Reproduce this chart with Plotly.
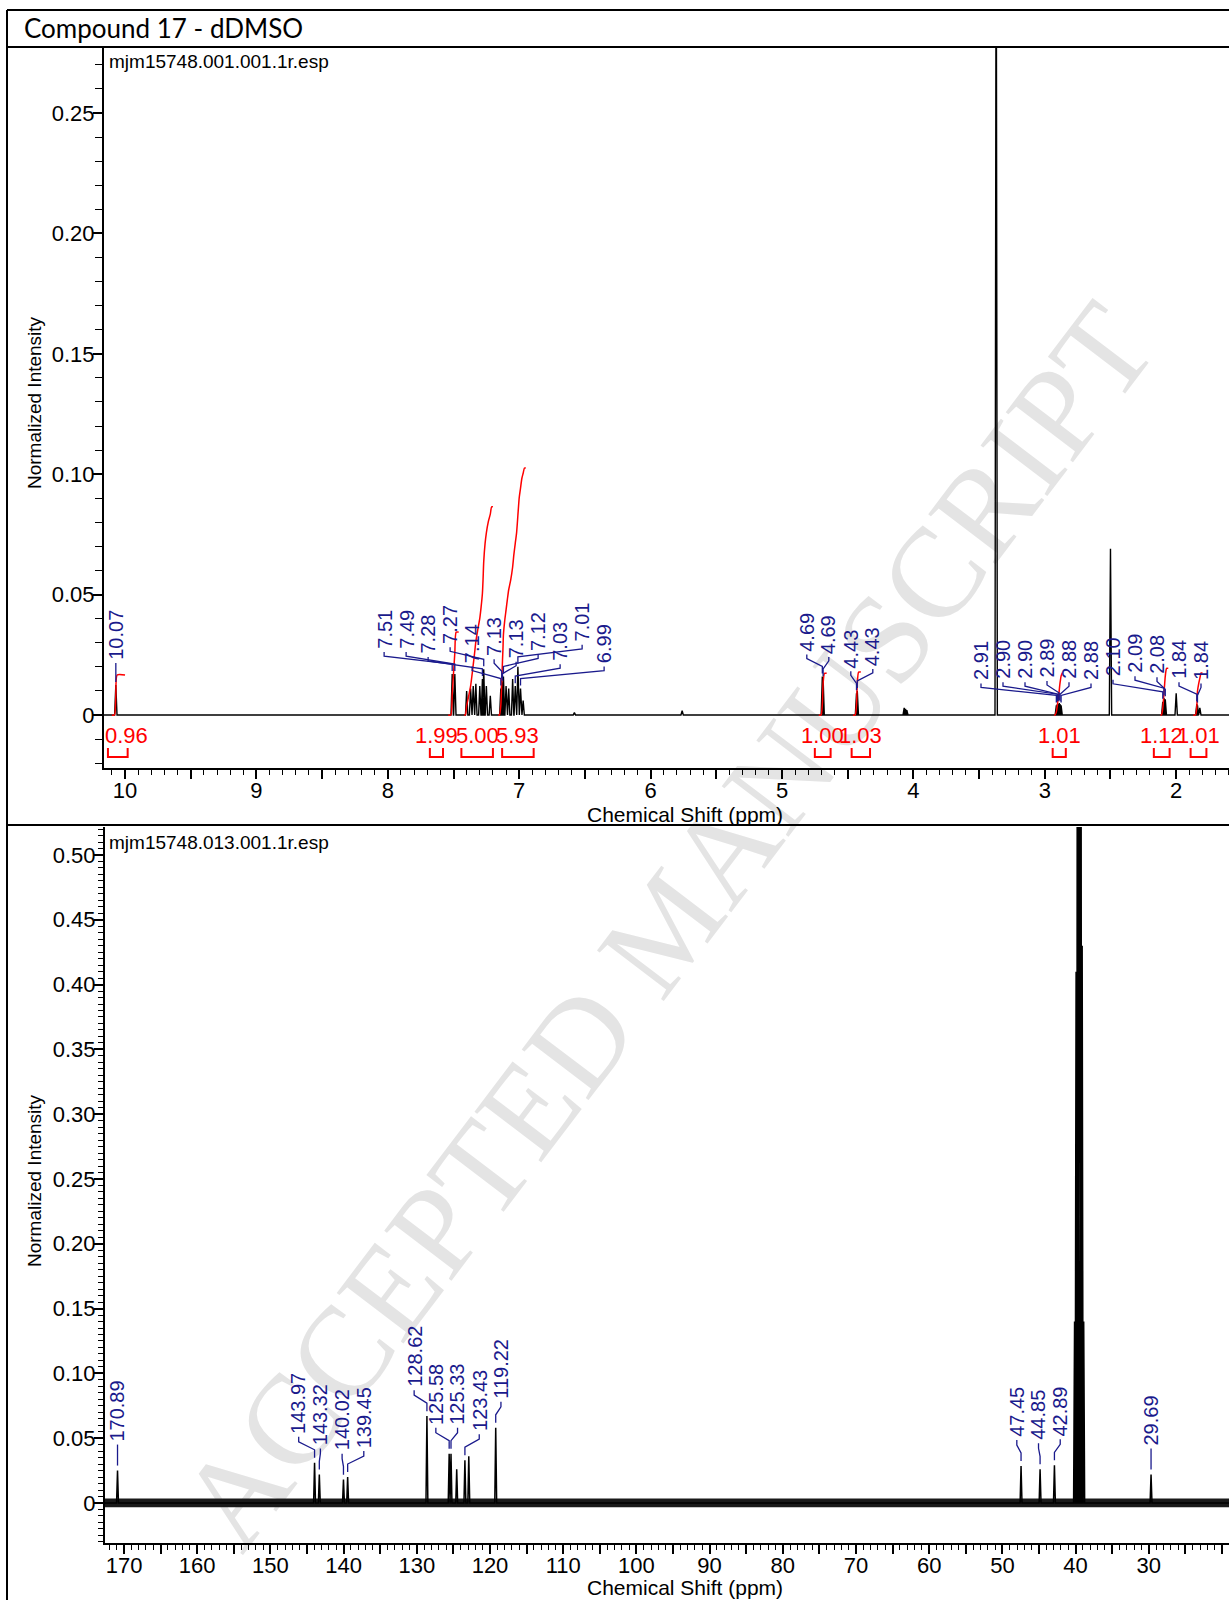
import plotly.graph_objects as go

W, H = 1229, 1600

# ---------------- data ----------------
TITLE = "Compound 17 - dDMSO"
H1_FILE = "mjm15748.001.001.1r.esp"
C13_FILE = "mjm15748.013.001.1r.esp"
X_TITLE = "Chemical Shift (ppm)"
Y_TITLE = "Normalized Intensity"
WATERMARK = "ACCEPTED MANUSCRIPT"

# 1H spectrum: peak positions (ppm) and normalized intensities
H1_PPM = [10.07, 7.51, 7.49, 7.40, 7.37, 7.35, 7.33, 7.30, 7.28, 7.27, 7.25, 7.22,
          7.14, 7.133, 7.127, 7.12, 7.10, 7.08, 7.05, 7.03, 7.01, 6.99, 6.97,
          6.58, 5.76, 4.693, 4.687, 4.433, 4.427, 4.07, 4.06, 4.05, 3.37,
          2.912, 2.904, 2.898, 2.890, 2.884, 2.876, 2.50, 2.102, 2.093, 2.083,
          2.00, 1.843, 1.838, 1.82]
H1_INTENSITY = [0.0125, 0.017, 0.017, 0.010, 0.011, 0.012, 0.013, 0.012, 0.015, 0.019, 0.012, 0.008,
                0.011, 0.014, 0.013, 0.016, 0.012, 0.011, 0.015, 0.012, 0.020, 0.011, 0.006,
                0.001, 0.0018, 0.016, 0.015, 0.009, 0.010, 0.003, 0.0025, 0.002, 0.36,
                0.004, 0.0045, 0.0045, 0.005, 0.0045, 0.004, 0.069, 0.0055, 0.007, 0.0065,
                0.009, 0.0045, 0.004, 0.003]
H1_LABELED = [10.07, 7.51, 7.49, 7.28, 7.27, 7.14, 7.133, 7.127, 7.12, 7.03, 7.01, 6.99,
              4.693, 4.687, 4.433, 4.427, 2.912, 2.904, 2.898, 2.890, 2.884, 2.876,
              2.102, 2.093, 2.083, 1.843, 1.838]

# 1H integrals
H1_INT_VALUES = [0.96, 1.99, 5.00, 5.93, 1.00, 1.03, 1.01, 1.12, 1.01]
H1_INT_FROM = [10.13, 7.68, 7.44, 7.13, 4.75, 4.47, 2.94, 2.17, 1.89]
H1_INT_TO = [9.98, 7.58, 7.20, 6.89, 4.63, 4.33, 2.84, 2.05, 1.77]
H1_INT_CURVE_FROM = [10.10, 7.54, 7.42, 7.16, 4.72, 4.46, 2.93, 2.12, 1.87]
H1_INT_CURVE_TO = [10.00, 7.46, 7.20, 6.95, 4.66, 4.40, 2.86, 2.06, 1.80]
INT_SCALE = 0.0173  # integral curve height per integral unit

# 13C spectrum
C13_PPM = [170.89, 143.97, 143.32, 140.02, 139.45, 128.62, 125.58, 125.33, 124.55, 123.43,
           122.90, 119.22, 47.45, 44.85, 42.89, 40.14, 39.93, 39.72, 39.51, 39.30, 39.10,
           38.89, 29.69]
C13_INTENSITY = [0.025, 0.031, 0.022, 0.018, 0.020, 0.067, 0.038, 0.038, 0.026, 0.033,
                 0.036, 0.058, 0.0285, 0.026, 0.029, 0.14, 0.41, 1.0, 1.3, 1.0, 0.43,
                 0.14, 0.022]
C13_LABELED = [170.89, 143.97, 143.32, 140.02, 139.45, 128.62, 125.58, 125.33, 123.43,
               119.22, 47.45, 44.85, 42.89, 29.69]
C13_NOISE = 0.0028

# ticks
X1_TICK_VALUES = [10, 9, 8, 7, 6, 5, 4, 3, 2]
X1_TICK_LABELS = ["10", "9", "8", "7", "6", "5", "4", "3", "2"]
Y1_TICK_VALUES = [0, 0.05, 0.10, 0.15, 0.20, 0.25]
Y1_TICK_LABELS = ["0", "0.05", "0.10", "0.15", "0.20", "0.25"]
X2_TICK_VALUES = [170, 160, 150, 140, 130, 120, 110, 100, 90, 80, 70, 60, 50, 40, 30, 20]
X2_TICK_LABELS = ["170", "160", "150", "140", "130", "120", "110", "100", "90", "80",
                  "70", "60", "50", "40", "30", "20"]
Y2_TICK_VALUES = [0, 0.05, 0.10, 0.15, 0.20, 0.25, 0.30, 0.35, 0.40, 0.45, 0.50]
Y2_TICK_LABELS = ["0", "0.05", "0.10", "0.15", "0.20", "0.25", "0.30", "0.35", "0.40",
                  "0.45", "0.50"]

# ---------------- layout geometry (pixels) ----------------
TOP = dict(left=104, right=1229, top=48, bottom=768, xr=(10.16, 1.598), yr=(-0.022, 0.277))
BOT = dict(left=105, right=1229, top=827, bottom=1543, xr=(172.6, 19.04), yr=(-0.0309, 0.5216))

BLUE = "#1a1a8c"
RED = "#ff0000"
SANS = "Liberation Sans, Arial, sans-serif"
INT_FONT = 22


def x2px(P, v):
    a, b = P["xr"]
    return P["left"] + (v - a) / (b - a) * (P["right"] - P["left"])


def px2x(P, px):
    a, b = P["xr"]
    return a + (px - P["left"]) / (P["right"] - P["left"]) * (b - a)


def y2px(P, v):
    lo, hi = P["yr"]
    return P["bottom"] - (v - lo) / (hi - lo) * (P["bottom"] - P["top"])


def px2y(P, px):
    lo, hi = P["yr"]
    return lo + (P["bottom"] - px) / (P["bottom"] - P["top"]) * (hi - lo)


def sticks(ppm, inten, hw, x_start, x_end):
    pk = sorted(zip(ppm, inten), key=lambda t: -t[0])
    xs, ys = [x_start], [0.0]
    for p, h in pk:
        xs += [p + hw, p, p - hw]
        ys += [0.0, h, 0.0]
    xs.append(x_end)
    ys.append(0.0)
    return xs, ys


def spread(ideal, gap, lo, hi):
    order = sorted(range(len(ideal)), key=lambda i: ideal[i])

    def place(cl):
        n = len(cl)
        c = sum(ideal[i] for i in cl) / n
        s = c - (n - 1) * gap / 2
        return max(lo, min(s, hi - (n - 1) * gap))

    clusters = []
    for i in order:
        clusters.append([i])
        while len(clusters) > 1:
            prev, cur = clusters[-2], clusters[-1]
            if place(prev) + len(prev) * gap > place(cur) + 1e-9:
                clusters[-2] = prev + cur
                clusters.pop()
            else:
                break
    pos = [0.0] * len(ideal)
    for cl in clusters:
        s = place(cl)
        for k, i in enumerate(cl):
            pos[i] = s + k * gap
    return pos


def peak_labels(P, labeled, ppm, inten, gap, lo, hi, G, v1, tick, gap2, xref, yref, fsize):
    lookup = dict(zip(ppm, inten))
    ideal = [x2px(P, p) for p in labeled]
    pos = spread(ideal, gap, lo, hi)
    anns, lx, ly = [], [], []
    ymax = P["yr"][1]
    for p, xl in zip(labeled, pos):
        top_px = y2px(P, min(lookup[p], ymax))
        yb = top_px - G
        xp = x2px(P, p)
        anns.append(dict(x=px2x(P, xl), y=px2y(P, yb), xref=xref, yref=yref,
                         text=f"{p:.2f}", textangle=-90, showarrow=False,
                         xanchor="center", yanchor="bottom", borderpad=0,
                         font=dict(family=SANS, size=fsize, color=BLUE)))
        pts = [(xl, yb + 2), (xl, yb + 2 + v1), (xp, top_px - gap2 - tick), (xp, top_px - gap2)]
        for (a, b) in pts:
            lx.append(px2x(P, a))
            ly.append(px2y(P, b))
        lx.append(None)
        ly.append(None)
    return anns, lx, ly


def integral_curve(i):
    a, b = H1_INT_CURVE_FROM[i], H1_INT_CURVE_TO[i]
    total = H1_INT_VALUES[i] * INT_SCALE
    pk = sorted([(p, h) for p, h in zip(H1_PPM, H1_INTENSITY) if b <= p <= a], key=lambda t: -t[0])
    s = sum(h for _, h in pk)
    xs, ys = [a, pk[0][0] + 0.01], [0.0, 0.0]
    c = 0.0
    for k, (p, h) in enumerate(pk):
        xs.append(p)
        ys.append((c + h / 2) / s * total)
        c += h
        if k + 1 < len(pk):
            xs.append((p + pk[k + 1][0]) / 2)
            ys.append(c / s * total)
    xs += [pk[-1][0] - 0.01, b]
    ys += [total, total]
    return xs, ys


fig = go.Figure()

# ---- 1H spectrum ----
hx, hy = sticks(H1_PPM, H1_INTENSITY, 0.009, TOP["xr"][0], TOP["xr"][1])
fig.add_trace(go.Scatter(x=hx, y=hy, mode="lines", line=dict(color="black", width=1.4),
                         xaxis="x", yaxis="y", hoverinfo="skip", showlegend=False))

# integral curves
ix, iy = [], []
for i in range(len(H1_INT_VALUES)):
    xs, ys = integral_curve(i)
    ix += xs + [None]
    iy += ys + [None]
fig.add_trace(go.Scatter(x=ix, y=iy, mode="lines", line=dict(color=RED, width=1.5, shape="spline", smoothing=0.6),
                         xaxis="x", yaxis="y", hoverinfo="skip", showlegend=False))

# integral brackets
bx, by = [], []
yb_top = px2y(TOP, 748)
yb_bot = px2y(TOP, 757)
for a, b in zip(H1_INT_FROM, H1_INT_TO):
    bx += [a, a, b, b, None]
    by += [yb_top, yb_bot, yb_bot, yb_top, None]
fig.add_trace(go.Scatter(x=bx, y=by, mode="lines", line=dict(color=RED, width=2),
                         xaxis="x", yaxis="y", hoverinfo="skip", showlegend=False))

annotations = []
for v, a, b in zip(H1_INT_VALUES, H1_INT_FROM, H1_INT_TO):
    txt = f"{v:.2f}"
    half_w = 0.5 * INT_FONT * (0.556 * (len(txt) - 1) + 0.278)
    cpx = max(x2px(TOP, (a + b) / 2), TOP["left"] + half_w + 1)
    annotations.append(dict(x=px2x(TOP, cpx), y=px2y(TOP, 735), xref="x", yref="y", text=txt,
                            showarrow=False, xanchor="center", yanchor="middle",
                            font=dict(family=SANS, size=INT_FONT, color=RED)))

anns1, l1x, l1y = peak_labels(TOP, H1_LABELED, H1_PPM, H1_INTENSITY, 22.0, 112, 1201,
                              24, 4, 7, 3, "x", "y", 20)
annotations += anns1
fig.add_trace(go.Scatter(x=l1x, y=l1y, mode="lines", line=dict(color=BLUE, width=1.3),
                         xaxis="x", yaxis="y", hoverinfo="skip", showlegend=False))

# ---- 13C spectrum ----
nx = [BOT["xr"][0], BOT["xr"][1], BOT["xr"][1], BOT["xr"][0]]
ny = [-C13_NOISE, -C13_NOISE, C13_NOISE, C13_NOISE]
fig.add_trace(go.Scatter(x=nx, y=ny, mode="lines", fill="toself", fillcolor="#1a1a1a",
                         line=dict(color="#1a1a1a", width=1.5),
                         xaxis="x2", yaxis="y2", hoverinfo="skip", showlegend=False))
cx, cy = sticks(C13_PPM, C13_INTENSITY, 0.13, BOT["xr"][0], BOT["xr"][1])
fig.add_trace(go.Scatter(x=cx, y=cy, mode="lines", line=dict(color="black", width=1.5),
                         xaxis="x2", yaxis="y2", hoverinfo="skip", showlegend=False))

anns2, l2x, l2y = peak_labels(BOT, C13_LABELED, C13_PPM, C13_INTENSITY, 21.7, 112, 1215,
                              28, 5, 8, 5, "x2", "y2", 20)
annotations += anns2
fig.add_trace(go.Scatter(x=l2x, y=l2y, mode="lines", line=dict(color=BLUE, width=1.3),
                         xaxis="x2", yaxis="y2", hoverinfo="skip", showlegend=False))

# ---- text ----
annotations += [
    dict(x=22 / W, y=1 - 28 / H, xref="paper", yref="paper", text=TITLE, showarrow=False,
         xanchor="left", yanchor="middle", font=dict(family="Lato, sans-serif", size=26, color="black")),
    dict(x=107 / W, y=1 - 62 / H, xref="paper", yref="paper", text=H1_FILE, showarrow=False,
         xanchor="left", yanchor="middle", font=dict(family=SANS, size=19, color="black")),
    dict(x=107 / W, y=1 - 842 / H, xref="paper", yref="paper", text=C13_FILE, showarrow=False,
         xanchor="left", yanchor="middle", font=dict(family=SANS, size=19, color="black")),
    dict(x=685 / W, y=1 - 814 / H, xref="paper", yref="paper", text=X_TITLE, showarrow=False,
         xanchor="center", yanchor="middle", font=dict(family=SANS, size=21, color="black")),
    dict(x=685 / W, y=1 - 1587 / H, xref="paper", yref="paper", text=X_TITLE, showarrow=False,
         xanchor="center", yanchor="middle", font=dict(family=SANS, size=21, color="black")),
    dict(x=34 / W, y=1 - 403 / H, xref="paper", yref="paper", text=Y_TITLE, showarrow=False,
         textangle=-90, xanchor="center", yanchor="middle", font=dict(family=SANS, size=19, color="black")),
    dict(x=34 / W, y=1 - 1181 / H, xref="paper", yref="paper", text=Y_TITLE, showarrow=False,
         textangle=-90, xanchor="center", yanchor="middle", font=dict(family=SANS, size=19, color="black")),
]

# ---- frame + watermark ----
def hline(y, x0=7, x1=W):
    return dict(type="line", xref="paper", yref="paper", x0=x0 / W, x1=x1 / W, y0=1 - y / H, y1=1 - y / H,
                line=dict(color="black", width=2), layer="above")

shapes = [
    hline(10), hline(47), hline(825),
    dict(type="line", xref="paper", yref="paper", x0=7 / W, x1=7 / W, y0=1 - 10 / H, y1=0,
         line=dict(color="black", width=2), layer="above"),
    dict(type="line", xref="paper", yref="paper", x0=198 / W, y0=1 - 1520 / H, x1=1114 / W, y1=1 - 314 / H,
         line=dict(color="rgba(0,0,0,0)", width=0.1), layer="below",
         label=dict(text=WATERMARK, textposition="middle", yanchor="middle",
                    font=dict(family="Liberation Serif, serif", size=128, color="#e4e4e4"))),
]


def half_ticks(vals, step, rng):
    lo, hi = min(rng), max(rng)
    out = []
    for v in vals:
        for t in (v, v + step):
            if lo <= t <= hi and t not in out:
                out.append(t)
    return sorted(out)


x1_vals = half_ticks(X1_TICK_VALUES, 0.5, TOP["xr"])
x1_text = [X1_TICK_LABELS[X1_TICK_VALUES.index(v)] if v in X1_TICK_VALUES else "" for v in x1_vals]
x2_vals = half_ticks(X2_TICK_VALUES, 5, BOT["xr"])
x2_text = [X2_TICK_LABELS[X2_TICK_VALUES.index(v)] if v in X2_TICK_VALUES else "" for v in x2_vals]

axis_common = dict(showline=True, linecolor="black", linewidth=2, ticks="outside", ticklen=9,
                   tickwidth=1.5, tickcolor="black", showgrid=False, zeroline=False,
                   tickfont=dict(family=SANS, size=22, color="black"), tickmode="array")

fig.update_layout(
    width=W, height=H, autosize=False,
    margin=dict(l=0, r=0, t=0, b=0),
    paper_bgcolor="white", plot_bgcolor="rgba(0,0,0,0)",
    showlegend=False,
    xaxis=dict(domain=[TOP["left"] / W, 1], anchor="y", range=list(TOP["xr"]),
               tickvals=x1_vals, ticktext=x1_text, ticklabelstandoff=-7,
               minor=dict(tickmode="linear", tick0=0, dtick=0.1, ticklen=5, tickwidth=1.2,
                          ticks="outside", tickcolor="black"), **axis_common),
    yaxis=dict(domain=[1 - TOP["bottom"] / H, 1 - TOP["top"] / H], anchor="x", range=list(TOP["yr"]),
               tickvals=Y1_TICK_VALUES, ticktext=Y1_TICK_LABELS, ticklabelstandoff=-6,
               minor=dict(tickmode="linear", tick0=0, dtick=0.01, ticklen=7, tickwidth=1.2,
                          ticks="outside", tickcolor="black"), **axis_common),
    xaxis2=dict(domain=[BOT["left"] / W, 1], anchor="y2", range=list(BOT["xr"]),
                tickvals=x2_vals, ticktext=x2_text, ticklabelstandoff=-7,
                minor=dict(tickmode="linear", tick0=0, dtick=1, ticklen=5, tickwidth=1.2,
                           ticks="outside", tickcolor="black"), **axis_common),
    yaxis2=dict(domain=[1 - BOT["bottom"] / H, 1 - BOT["top"] / H], anchor="x2", range=list(BOT["yr"]),
                tickvals=Y2_TICK_VALUES, ticktext=Y2_TICK_LABELS, ticklabelstandoff=-6,
                minor=dict(tickmode="linear", tick0=0, dtick=0.005, ticklen=5, tickwidth=1.2,
                           ticks="outside", tickcolor="black"), **axis_common),
    annotations=annotations,
    shapes=shapes,
)

fig.write_html("out.html", config={"displayModeBar": False})
